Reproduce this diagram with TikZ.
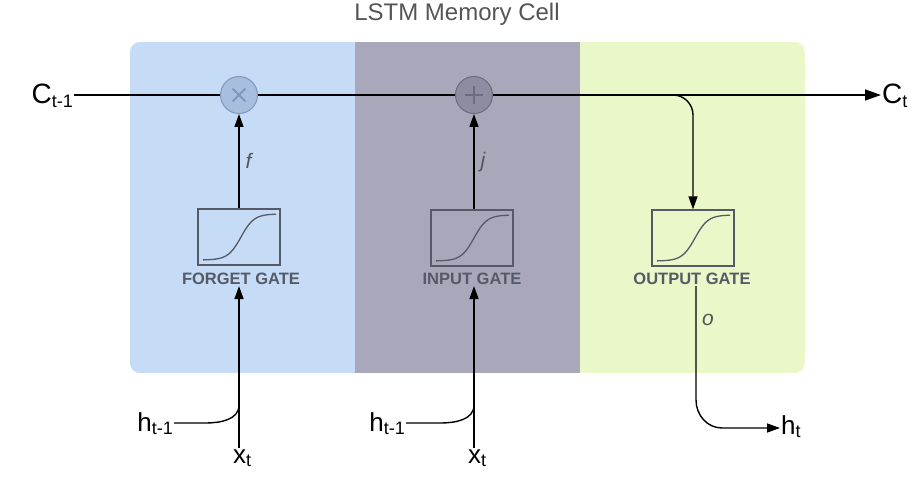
\documentclass[tikz,border=0pt]{standalone}
\usepackage{fontspec}
\setmainfont{Liberation Sans}
\usetikzlibrary{arrows.meta}
\definecolor{pblue}{RGB}{197,219,246}
\definecolor{pgray}{RGB}{169,168,187}
\definecolor{pgreen}{RGB}{234,247,200}
\definecolor{cblue}{RGB}{168,190,222}
\definecolor{cbluedraw}{RGB}{130,152,186}
\definecolor{cgray}{RGB}{141,140,160}
\definecolor{cgraydraw}{RGB}{108,107,128}
\definecolor{boxline}{RGB}{85,90,102}
\definecolor{titlegray}{RGB}{85,85,85}
\newcommand{\mysub}[1]{\raisebox{-3.5pt}{\fontsize{18}{18}\selectfont #1}}
\tikzset{
  arr/.style={line width=1.4pt, -{Triangle[length=13pt,width=9pt]}},
  bigarr/.style={line width=1.4pt, -{Triangle[length=16pt,width=11pt]}},
  conn/.style={line width=1.4pt},
  opcirc/.style={circle, minimum size=37pt, inner sep=0pt, line width=1pt},
  gatebox/.style={draw=boxline, line width=1.4pt, minimum width=82pt, minimum height=56pt, inner sep=0pt},
  gatelabel/.style={text=boxline, font=\bfseries\fontsize{16.5}{17}\selectfont, inner sep=1pt},
  var/.style={font=\fontsize{28}{28}\selectfont, inner sep=1pt},
  var2/.style={font=\fontsize{26}{26}\selectfont, inner sep=1pt},
  glab/.style={text=titlegray, font=\itshape\fontsize{21}{21}\selectfont, inner sep=1pt}
}
\begin{document}
\begin{tikzpicture}[x=1pt,y=-1pt]
\useasboundingbox (0,0) rectangle (922,500);
\fill[white] (0,0) rectangle (922,500);
% panels
\begin{scope}
\clip[rounded corners=10pt] (130,42) rectangle (805,373);
\fill[pblue] (130,42) rectangle (355,373);
\fill[pgray] (355,42) rectangle (580,373);
\fill[pgreen] (580,42) rectangle (805,373);
\end{scope}
% title
\node[text=titlegray, font=\fontsize{24}{24}\selectfont] (title) at (457,14) {LSTM Memory Cell};
% cell state labels
\node[var, anchor=base east] (cprev) at (74,104) {C\mysub{t-1}};
\node[var, anchor=base west] (cnext) at (881,104) {C\mysub{t}};
\coordinate (split) at (645,95);
\draw[bigarr] (cprev.east |- 0,95) -- (cnext.west |- 0,95);
% op circles
\node[opcirc, fill=cblue, draw=cbluedraw] (mul) at (239,95) {};
\draw[cbluedraw, line width=1.8pt] ([shift={(-6.5,-6.5)}]mul.center) -- ([shift={(6.5,6.5)}]mul.center)
  ([shift={(-6.5,6.5)}]mul.center) -- ([shift={(6.5,-6.5)}]mul.center);
\node[opcirc, fill=cgray, draw=cgraydraw] (add) at (474,95) {};
\draw[cgraydraw, line width=2pt] ([shift={(-9,0)}]add.center) -- ([shift={(9,0)}]add.center)
  ([shift={(0,-9)}]add.center) -- ([shift={(0,9)}]add.center);
% gate boxes
\node[gatebox] (fg) at (239,237) {};
\node[gatebox] (ig) at (472,238) {};
\node[gatebox] (og) at (693,238) {};
\foreach \g in {fg,ig,og}{
  \begin{scope}[shift={(\g.center)}, y=1pt]
    \draw[boxline, line width=1.3pt] plot[domain=-36:37, samples=50, smooth] (\x, {-23 + 46/(1+exp(-(\x-2)/6.5))});
  \end{scope}
}
\node[gatelabel] (fgl) at (241,279) {FORGET GATE};
\node[gatelabel] (igl) at (472,279) {INPUT GATE};
\node[gatelabel] (ogl) at (692,279) {OUTPUT GATE};
% gate to op arrows
\draw[arr] (fg.north) -- (mul.south) node[glab, midway, right=5pt] {f};
\draw[arr] (ig.north -| add) -- (add.south) node[glab, midway, right=5pt] {j};
% output gate input from cell line
\draw[arr, rounded corners=20pt] (split) -| (og.north);
% forget gate inputs
\node[var2, anchor=base] (xf) at (242,463) {x\mysub{t}};
\node[var2, anchor=base east] (hf) at (174,431) {h\mysub{t-1}};
\draw[arr] (xf.north -| fg) -- (fgl.south -| fg);
\draw[conn] (hf.east |- 0,423) -- (205,423) to[out=0,in=-90] (239,405);
% input gate inputs
\node[var2, anchor=base] (xi) at (477,463) {x\mysub{t}};
\node[var2, anchor=base east] (hi) at (406,431) {h\mysub{t-1}};
\draw[arr] (xi.north -| 474,0) -- (igl.south -| 474,0);
\draw[conn] (hi.east |- 0,423) -- (440,423) to[out=0,in=-90] (474,405);
% output
\node[var2, anchor=base west] (ht) at (780,434) {h\mysub{t}};
\draw[arr] (ogl.south -| 696,0) -- (696,400) to[out=-90,in=180] (722,428) -- (ht.west |- 0,428);
\node[glab] (ol) at (708,320) {o};
\end{tikzpicture}
\end{document}
